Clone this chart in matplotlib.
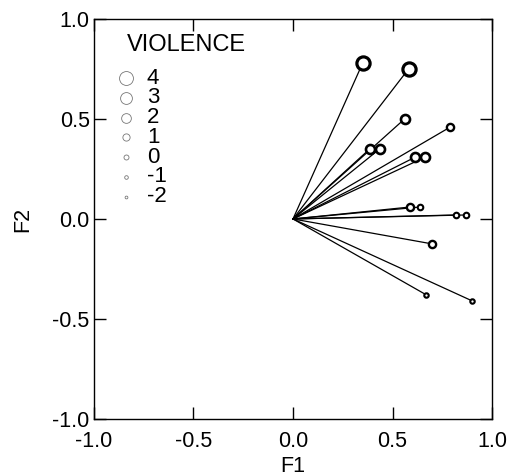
import numpy as np
import matplotlib
matplotlib.use('Agg')
from matplotlib import pyplot as plt

# loadings on F1 / F2 and violence score of each variable
f1 = [0.35, 0.58, 0.56, 0.79, 0.385, 0.435, 0.615, 0.665,
      0.59, 0.64, 0.82, 0.87, 0.70, 0.67, 0.90]
f2 = [0.78, 0.75, 0.50, 0.46, 0.35, 0.35, 0.31, 0.31,
      0.06, 0.06, 0.02, 0.02, -0.125, -0.38, -0.41]
violence = [4, 4, 2, 1, 2, 2, 2, 2, 1, 0, 0, 0, 1, -1, -1]

legend_levels = [4, 3, 2, 1, 0, -1, -2]
ticks = [-1.0, -0.5, 0.0, 0.5, 1.0]

# marker size (pt) for each violence level
msize = {4: 9.5, 3: 8.0, 2: 6.5, 1: 5.2, 0: 4.0, -1: 3.2, -2: 2.4}

plt.rcParams['font.family'] = ['Liberation Sans', 'DejaVu Sans']
plt.rcParams['font.size'] = 15.5

fig = plt.figure(figsize=(5.10, 4.76), dpi=100)
ax = fig.add_axes([0.184, 0.120, 0.781, 0.840])

for x, y, v in zip(f1, f2, violence):
    ax.plot([0, x], [0, y], color='black', lw=0.9, zorder=2)
    ax.plot(x, y, 'o', ms=msize[v], mfc='white', mec='black',
            mew=1.5 + 0.2 * max(v, 0), zorder=3)

# legend drawn by hand in axes coords
ax.text(0.083, 0.935, 'VIOLENCE', transform=ax.transAxes,
        ha='left', va='center', fontsize=17)
for i, v in enumerate(legend_levels):
    yy = 0.8525 - i * 0.0495
    lsize = {4: 10.0, 3: 8.5, 2: 7.0, 1: 5.2, 0: 3.6, -1: 2.6, -2: 2.0}[v]
    ax.plot(0.08, yy, 'o', ms=lsize, mfc='white', mec='#777777',
            mew=0.6, transform=ax.transAxes)
    ax.text(0.133, yy, str(v), transform=ax.transAxes,
            ha='left', va='center', fontsize=16)

ax.set_xlim(-1, 1)
ax.set_ylim(-1, 1)
ax.set_xticks(ticks)
ax.set_yticks(ticks)
ax.set_xticklabels(['%.1f' % t for t in ticks])
ax.set_yticklabels(['%.1f' % t for t in ticks])
ax.tick_params(direction='in', length=8.5, width=1.0, top=True, right=True,
               labelsize=15.5)
ax.tick_params(axis='x', pad=8.5)
ax.tick_params(axis='y', pad=3)
for s in ax.spines.values():
    s.set_linewidth(1.0)
ax.set_xlabel('F1', labelpad=3, fontsize=15.5)
ax.set_ylabel('F2', labelpad=14, fontsize=15.5)

fig.savefig('out.png', dpi=100)
